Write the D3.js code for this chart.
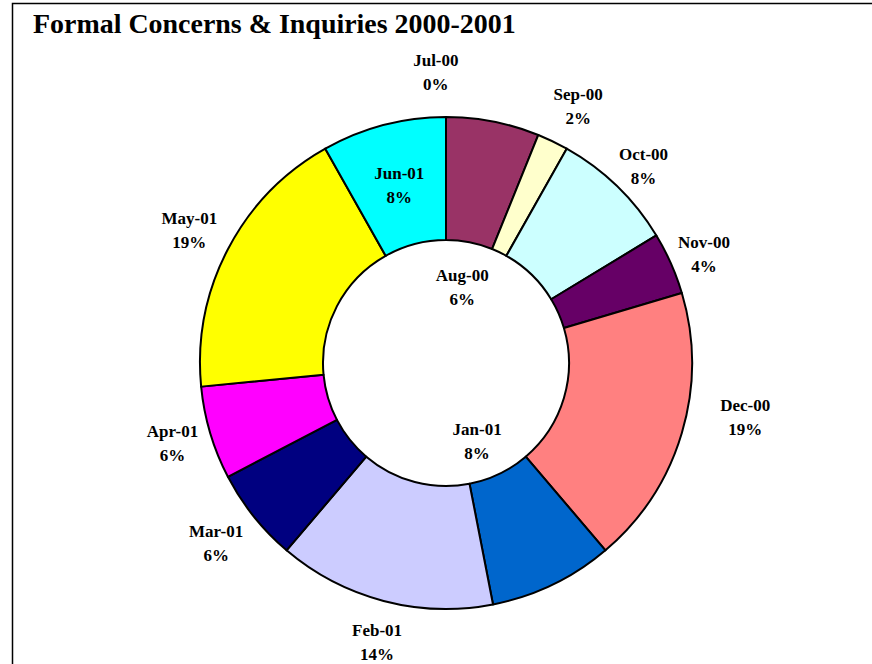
<!DOCTYPE html>
<html>
<head>
<meta charset="utf-8">
<script src="https://cdn.jsdelivr.net/npm/d3@7"></script>
<style>
  html, body { margin: 0; padding: 0; background: #fff; }
  svg { display: block; }
</style>
</head>
<body>
<svg id="chart" width="872" height="664"></svg>
<script>
// ---- data ----
const categories = ["Jul-00","Aug-00","Sep-00","Oct-00","Nov-00","Dec-00","Jan-01","Feb-01","Mar-01","Apr-01","May-01","Jun-01"];
const counts     = [0, 3, 1, 4, 2, 9, 4, 7, 3, 3, 9, 4];
const title = "Formal Concerns & Inquiries 2000-2001";

// ---- style / layout ----
const colors = ["#9999FF","#993366","#FFFFCC","#CCFFFF","#660066","#FF8080","#0066CC","#CCCCFF","#000080","#FF00FF","#FFFF00","#00FFFF"];
// label placement: distance from centre and angular nudge (degrees) from slice mid-angle
const labelRadius = [291, 78, 289, 279, 280, 304, 84, 287, 292, 285, 289, 184];
const labelNudge  = [-2, 1, 1.5, 1, 1, -6.3, 4, -0.8, 0.5, 0.2, -0.2, 0];

const W = 872, H = 664;
const cx = 446, cy = 363, outerR = 246, innerR = 123;
const fontFam = "'Liberation Serif','Times New Roman',serif";

const svg = d3.select("#chart");

// frame
svg.append("rect")
  .attr("x", 12.5).attr("y", 3.5)
  .attr("width", W + 20).attr("height", H + 20)
  .attr("fill", "none").attr("stroke", "#000").attr("stroke-width", 1.5);

// title, fitted to the reference width
const t = svg.append("text")
  .attr("x", 33).attr("y", 33)
  .attr("font-family", fontFam)
  .attr("font-weight", "bold")
  .attr("font-size", 22)
  .attr("fill", "#000")
  .text(title);
const tw = t.node().getComputedTextLength();
t.attr("font-size", 22 * 483 / tw);

// percentages rounded so they sum to 100 (largest remainder, as the spreadsheet does)
const total = d3.sum(counts);
const raw = counts.map(v => v / total * 100);
const pct = raw.map(Math.floor);
let short = 100 - d3.sum(pct);
d3.range(raw.length)
  .sort((a, b) => (raw[b] - pct[b]) - (raw[a] - pct[a]))
  .forEach(i => { if (short > 0 && raw[i] > 0) { pct[i] += 1; short -= 1; } });

const g = svg.append("g").attr("transform", `translate(${cx},${cy})`);

const data = categories.map((c, i) => ({
  cat: c, value: counts[i], pct: pct[i], color: colors[i],
  lr: labelRadius[i], nudge: labelNudge[i]
}));
const pie = d3.pie().value(d => d.value).sort(null);
const arcs = pie(data);
const arc = d3.arc().innerRadius(innerR).outerRadius(outerR);

g.selectAll("path.slice")
  .data(arcs)
  .join("path")
  .attr("class", "slice")
  .attr("d", arc)
  .attr("fill", d => d.data.color)
  .attr("stroke", "#000")
  .attr("stroke-width", 2)
  .attr("stroke-linejoin", "round");

const labels = g.selectAll("g.lbl")
  .data(arcs)
  .join("g")
  .attr("class", "lbl")
  .attr("transform", d => {
    const a = (d.startAngle + d.endAngle) / 2 + d.data.nudge * Math.PI / 180;
    const x = Math.sin(a) * d.data.lr;
    const y = -Math.cos(a) * d.data.lr;
    return `translate(${x},${y})`;
  });

labels.append("text")
  .attr("text-anchor", "middle")
  .attr("y", -6)
  .attr("font-family", fontFam)
  .attr("font-weight", "bold")
  .attr("font-size", 17)
  .attr("fill", "#000")
  .text(d => d.data.cat);

labels.append("text")
  .attr("text-anchor", "middle")
  .attr("y", 18)
  .attr("font-family", fontFam)
  .attr("font-weight", "bold")
  .attr("font-size", 17)
  .attr("fill", "#000")
  .text(d => d.data.pct + "%");
</script>
</body>
</html>
